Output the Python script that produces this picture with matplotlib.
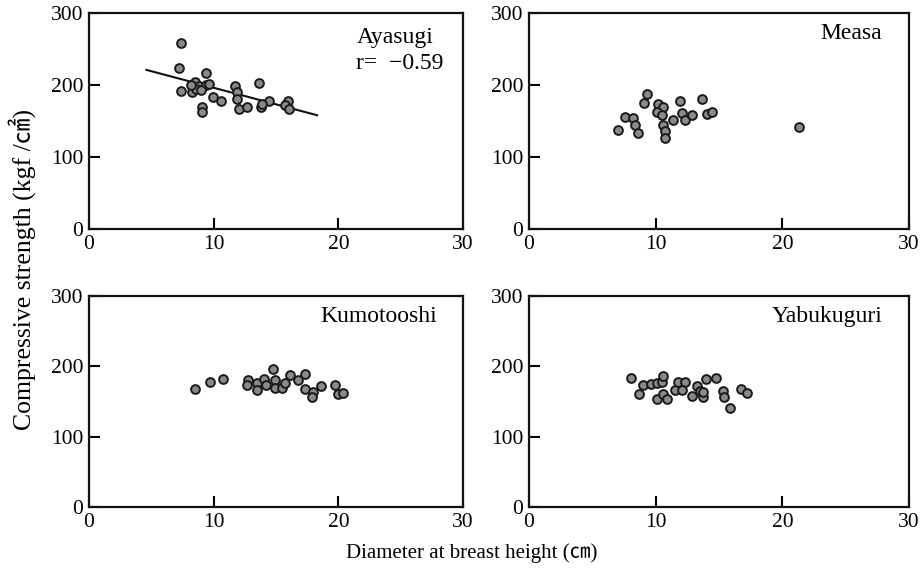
import matplotlib
matplotlib.use("Agg")
import matplotlib.pyplot as plt

plt.rcParams['font.family'] = ['Liberation Serif', 'Noto Sans CJK JP', 'DejaVu Sans']
plt.rcParams['mathtext.fontset'] = 'stix'

# ---- data ----
x_ticks = [0, 10, 20, 30]
y_ticks = [0, 100, 200, 300]

aya_x = [7.4, 7.2, 9.4, 7.4, 8.5, 8.3, 8.8, 9.4, 8.6, 8.2, 9.0, 9.6, 9.1, 9.1, 9.95, 10.6,
         11.75, 11.9, 11.9, 12.0, 12.7, 13.6, 13.8, 14.4, 13.9, 16.0, 15.7, 16.05]
aya_y = [258, 224, 216, 191, 204, 190, 198, 200, 195, 200, 193, 201, 169, 163, 184, 178,
         198, 190, 181, 166, 169, 203, 169, 178, 174, 178, 172, 167]
aya_fit_x = [4.6, 18.3]
aya_fit_y = [221, 158]

mea_x = [7.0, 7.56, 8.2, 8.4, 8.6, 9.3, 9.1, 10.2, 10.6, 10.1, 10.5, 10.6, 10.7, 10.7,
         11.35, 11.9, 12.07, 12.3, 12.9, 13.66, 14.06, 14.46, 21.3]
mea_y = [137, 155, 154, 145, 134, 188, 175, 173, 169, 163, 158, 145, 136, 127,
         152, 178, 161, 152, 158, 181, 160, 163, 141]

kum_x = [8.5, 9.68, 10.77, 12.77, 12.7, 13.5, 13.5, 14.03, 14.2, 14.75, 14.9, 14.9,
         15.5, 15.76, 16.1, 16.75, 17.36, 17.36, 18.0, 17.9, 18.64, 19.76, 20.0, 20.4]
kum_y = [168, 178, 182, 180, 174, 177, 167, 182, 173, 196, 180, 169,
         169, 177, 187, 181, 189, 168, 163, 156, 172, 173, 160, 162]

yab_x = [8.08, 8.66, 8.97, 9.6, 10.1, 10.5, 10.6, 10.1, 10.6, 10.86, 11.5, 11.76, 12.3,
         12.1, 12.88, 13.26, 13.5, 13.76, 14.0, 13.76, 14.77, 15.3, 15.4, 15.9, 16.7, 17.2]
yab_y = [184, 161, 173, 175, 176, 178, 186, 154, 161, 154, 167, 178, 178,
         166, 158, 172, 165, 156, 182, 163, 184, 165, 156, 141, 168, 162]

panels = [
    ("Ayasugi", aya_x, aya_y),
    ("Measa", mea_x, mea_y),
    ("Kumotooshi", kum_x, kum_y),
    ("Yabukuguri", yab_x, yab_y),
]

W, H = 921, 576
fig = plt.figure(figsize=(W / 100, H / 100), dpi=100)

# axes boxes in pixels: left, right, top, bottom
boxes = [(89, 463, 13, 229), (529, 909, 13, 229), (89, 463, 296, 507), (529, 909, 296, 507)]

for (name, xs, ys), (l, r, t, b) in zip(panels, boxes):
    ax = fig.add_axes([l / W, 1 - b / H, (r - l) / W, (b - t) / H])
    ax.set_xlim(0, 30)
    ax.set_ylim(0, 300)
    ax.set_xticks(x_ticks)
    ax.set_yticks(y_ticks)
    ax.tick_params(direction='in', length=8, width=1.5, labelsize=15.5,
                   top=False, right=False, pad=4)
    for s in ax.spines.values():
        s.set_linewidth(1.6)
        s.set_color('#111111')
    ax.scatter(xs, ys, s=40, facecolor='#8a8a8a', edgecolor='#1a1a1a',
               linewidths=1.4, zorder=3)
    if name == "Ayasugi":
        ax.plot(aya_fit_x, aya_fit_y, color='#111111', lw=1.5, zorder=2)
        ax.text(0.715, 0.885, "Ayasugi", transform=ax.transAxes, fontsize=17,
                ha='left', va='center')
        ax.text(0.715, 0.765, "r=\u2002\u22120.59", transform=ax.transAxes, fontsize=17,
                ha='left', va='center')
    else:
        ax.text(0.93, 0.905, name, transform=ax.transAxes, fontsize=17,
                ha='right', va='center')

fig.text(22 / W, 1 - 270 / H, "Compressive strength (kgf /\u33a0)", rotation=90,
         ha='center', va='center', fontsize=18.5)
fig.text(472 / W, 1 - 553 / H, "Diameter at breast height (\u339d)",
         ha='center', va='center', fontsize=15)

fig.savefig("out.png", dpi=100, facecolor='white')
